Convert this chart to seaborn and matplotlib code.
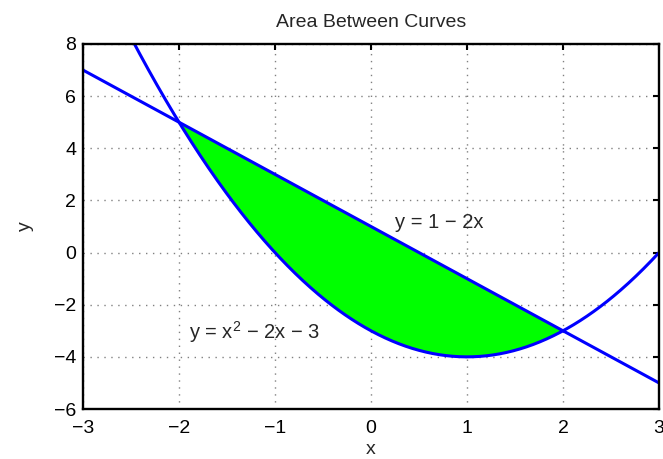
import numpy as np
import pandas as pd
import matplotlib
matplotlib.use("Agg")
import matplotlib.pyplot as plt
import seaborn as sns

# Chart content
title = "Area Between Curves"
x_range = [-3, 3]
y_range = [-6, 8]
x_ticks = [-3, -2, -1, 0, 1, 2, 3]
y_ticks = [-6, -4, -2, 0, 2, 4, 6, 8]
parabola_coeffs = [1, -2, -3]   # y = x^2 - 2x - 3 (as labelled)
line_coeffs = [-2, 1]           # y = 1 - 2x (as labelled)
intersections_x = [-2, 2]
label_line = "y = 1 \u2212 2x"
label_parab = "y = x$^2$ \u2212 2x \u2212 3"
label_line_pos = [0.25, 1.15]
label_parab_pos = [-1.9, -3.05]

sns.set_style("white")
plt.rcParams["font.family"] = ["Liberation Sans", "DejaVu Sans"]
plt.rcParams["mathtext.fontset"] = "custom"
plt.rcParams["mathtext.rm"] = "Liberation Sans"
plt.rcParams["mathtext.it"] = "Liberation Sans"

fig = plt.figure(figsize=(6.63, 4.59), dpi=100)
ax = fig.add_axes([83 / 663, 1 - 409 / 459, (659 - 83) / 663, (409 - 44) / 459])

xs = np.linspace(x_range[0], x_range[1], 601)
df = pd.DataFrame({
    "x": xs,
    "parabola": np.polyval(parabola_coeffs, xs),
    "line": np.polyval(line_coeffs, xs),
})

xf = np.linspace(intersections_x[0], intersections_x[1], 401)
ax.fill_between(xf, np.polyval(parabola_coeffs, xf), np.polyval(line_coeffs, xf),
                color=(0, 1, 0), linewidth=0, zorder=2)

sns.lineplot(data=df, x="x", y="parabola", ax=ax, color=(0, 0, 1), linewidth=2.2, zorder=3)
sns.lineplot(data=df, x="x", y="line", ax=ax, color=(0, 0, 1), linewidth=2.2, zorder=3)

ax.set_xlim(*x_range)
ax.set_ylim(*y_range)
ax.set_xticks(x_ticks)
ax.set_yticks(y_ticks)
ax.set_xticklabels([str(t).replace("-", "\u2212") for t in x_ticks])
ax.set_yticklabels([str(t).replace("-", "\u2212") for t in y_ticks])

ax.grid(True, color="#808080", linestyle=(0, (1, 4)), linewidth=1.0)
ax.set_axisbelow(True)
for s in ax.spines.values():
    s.set_visible(True)
    s.set_color("black")
    s.set_linewidth(1.7)
    s.set_zorder(5)

ax.tick_params(axis="both", which="both", direction="in", length=4, width=1.5,
               top=True, right=True, labelsize=14, colors="black")
ax.tick_params(axis="x", pad=8)
ax.tick_params(axis="y", pad=5)

ax.set_xlabel("x", fontsize=14, labelpad=3)
ax.set_ylabel("y", fontsize=14, labelpad=14)
ax.set_title(title, fontsize=14, pad=12)

ax.text(label_line_pos[0], label_line_pos[1], label_line, fontsize=14.5,
        ha="left", va="center", zorder=6)
ax.text(label_parab_pos[0], label_parab_pos[1], label_parab, fontsize=14.5,
        ha="left", va="center", zorder=6)

fig.savefig("out.png", dpi=100)
